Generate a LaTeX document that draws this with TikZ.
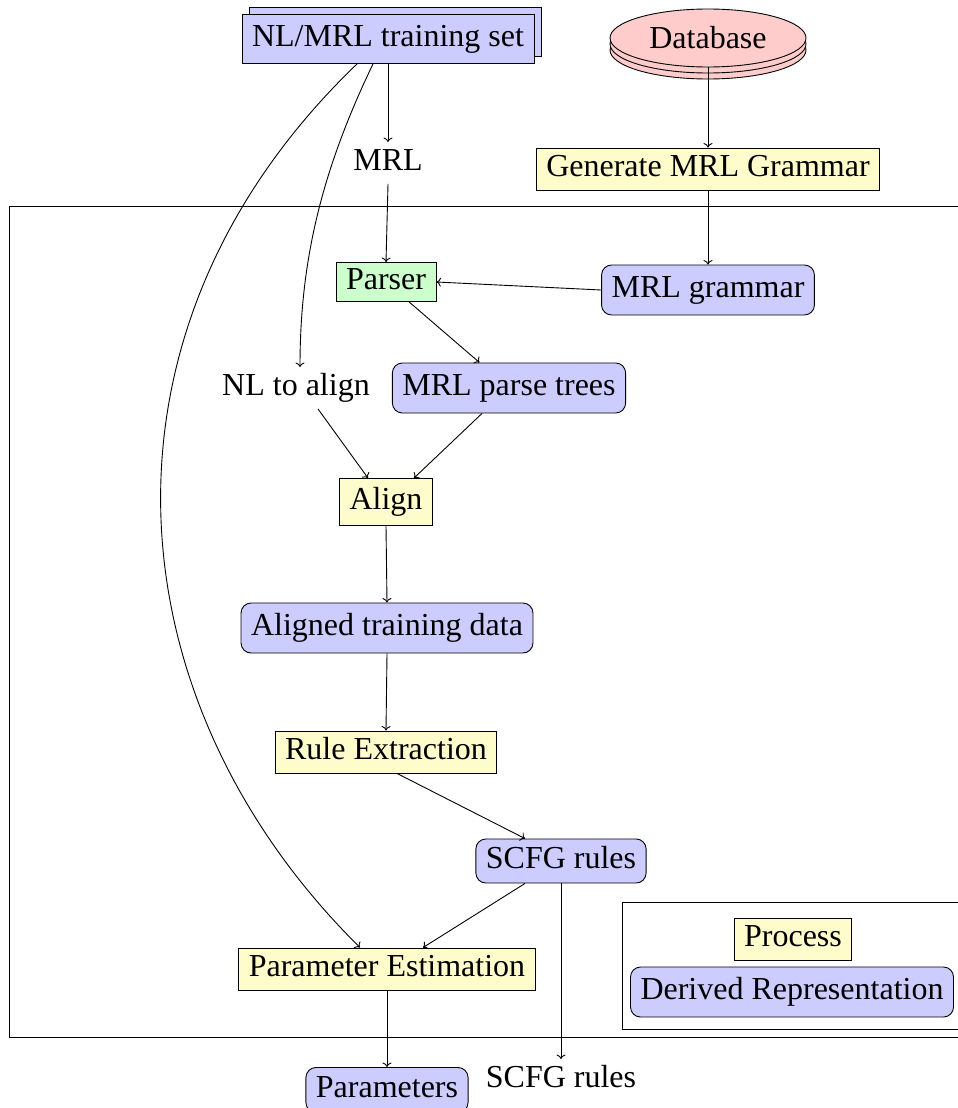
\documentclass[tikz,border=0pt]{standalone}
\usepackage{fontspec}
\setmainfont{Liberation Serif}
\usetikzlibrary{arrows.meta,shapes.geometric,shadows,calc}
\begin{document}
\begin{tikzpicture}[x=1pt,y=-1pt,line width=0.9pt,
  every node/.style={font=\fontsize{32}{38}\selectfont},
  >={Computer Modern Rightarrow[length=4.5pt,width=9pt]},
  proc/.style={draw,fill=yellow!20,inner xsep=10pt,inner ysep=6.5pt,text height=22pt,text depth=7pt},
  parser/.style={draw,fill=green!20,inner xsep=10pt,inner ysep=5pt,text height=22pt,text depth=7pt},
  deriv/.style={draw,fill=blue!20,rounded corners=10pt,inner xsep=10pt,inner ysep=10.5pt,text height=22pt,text depth=7pt},
  lbl/.style={inner sep=6pt,text height=22pt,text depth=7pt}]
\useasboundingbox (0,0) rectangle (958,1108);
% frames
\draw (9,206) rectangle (970,1037);
\draw (622,902) rectangle (970,1029);
% nodes
\node[draw,fill=blue!20,inner xsep=10pt,inner ysep=10pt,text height=22pt,text depth=7pt,
  copy shadow={shadow xshift=7pt,shadow yshift=7pt}] (train) at (388,39) {NL/MRL training set};
\node[draw,fill=red!20,ellipse,minimum width=196pt,minimum height=58pt,inner sep=0pt,
  double copy shadow={shadow xshift=0pt,shadow yshift=-6pt}] (db) at (708,38) {Database};
\node[lbl] (mrl) at (388,163) {MRL};
\node[proc] (gen) at (708,169) {Generate MRL Grammar};
\node[parser] (parser) at (386,282) {Parser};
\node[deriv] (grammar) at (708,290) {MRL grammar};
\node[lbl] (nl) at (296,388) {NL to align};
\node[deriv] (trees) at (509,388) {MRL parse trees};
\node[proc,inner ysep=9pt] (align) at (386,502) {Align};
\node[deriv] (aligned) at (387,628) {Aligned training data};
\node[proc] (rule) at (386,752) {Rule Extraction};
\node[deriv,inner ysep=7.5pt] (scfg) at (561,861) {SCFG rules};
\node[proc] (pe) at (387,969) {Parameter Estimation};
\node[deriv,inner ysep=8pt] (params) at (387,1090) {Parameters};
\node[lbl] (scfgout) at (561,1080) {SCFG rules};
\node[proc] (lproc) at (793,939) {Process};
\node[deriv] (lderiv) at (792,992) {Derived Representation};
% connectors
\draw[->] (train.south) -- (mrl.north);
\draw[->] (mrl.south) -- (parser.north);
\draw[->] (db.south) -- (gen.north);
\draw[->] (gen.south) -- (grammar.north);
\draw[->] (grammar.west) -- (parser.east);
\draw[->] (parser) -- (trees);
\draw[->] ($(train.south)+(-15,0)$) .. controls (322,170) and (300,260) .. ($(nl.north)+(4,0)$);
\draw[->] ($(nl.south)+(22,0)$) -- ($(align.north)+(-18,0)$);
\draw[->] ($(trees.south)+(-27,0)$) -- ($(align.north)+(28,0)$);
\draw[->] (align.south) -- (aligned.north);
\draw[->] (aligned.south) -- (rule.north);
\draw[->] ($(rule.south)+(11,0)$) -- ($(scfg.north)+(-36,0)$);
\draw[->] ($(scfg.south)+(-36,0)$) -- ($(pe.north)+(36,0)$);
\draw[->] (scfg.south) -- (scfgout.north);
\draw[->] ($(train.south)+(-31,0)$) .. controls (80,330) and (110,700) .. ($(pe.north)+(-27,0)$);
\draw[->] (pe.south) -- (params.north);
\end{tikzpicture}
\end{document}
